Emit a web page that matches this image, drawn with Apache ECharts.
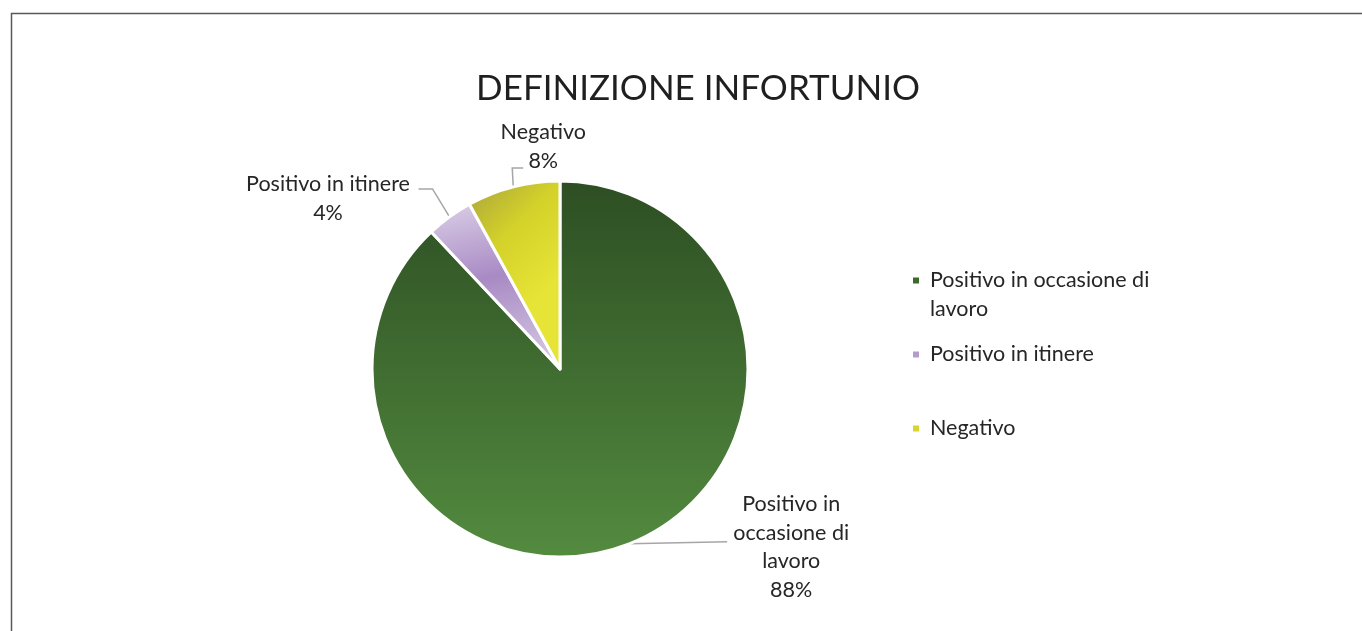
<!DOCTYPE html>
<html>
<head>
<meta charset="utf-8">
<script src="https://cdn.jsdelivr.net/npm/echarts@6/dist/echarts.min.js"></script>
<style>
  html, body { margin: 0; padding: 0; background: #fff; }
  #chart { width: 1362px; height: 631px; }
</style>
</head>
<body>
<div id="chart"></div>
<script>
// categories and shares (percent)
const categories = ['Positivo in occasione di lavoro', 'Positivo in itinere', 'Negativo'];
const values = [88, 4, 8];
// how the texts are broken into lines
const labelText = ['Positivo in\noccasione di\nlavoro', 'Positivo in itinere', 'Negativo'];
const legendText = ['\nPositivo in occasione di\nlavoro', '\nPositivo in itinere\n', '\nNegativo\n'];

const fontName = 'Lato';

const fills = [
  new echarts.graphic.LinearGradient(0, 0, 0, 1, [
    { offset: 0, color: '#2d4e23' },
    { offset: 1, color: '#538b3f' }
  ]),
  new echarts.graphic.LinearGradient(0, 0, 0.3, 1, [
    { offset: 0, color: '#ddd1e8' },
    { offset: 0.5, color: '#a88ac4' },
    { offset: 1, color: '#d0c2e0' }
  ]),
  new echarts.graphic.LinearGradient(0, 0, 1, 0.5, [
    { offset: 0, color: '#a8a33d' },
    { offset: 0.5, color: '#d4d22a' },
    { offset: 1, color: '#e6e436' }
  ])
];
const legendColors = ['#3a6a2c', '#b49ccf', '#d8d62e'];

// label offsets from the slice edge point (like Excel's leader lines)
const labelMove = [
  { line: [[49, -1], [98, -2]], pos: [162, 3.5] },
  { line: [[-17, -28], [-31, -28]], pos: [-121.5, -18.4] },
  { line: [[-1, -19], [10, -19]], pos: [30, -40.5] }
];

const chart = echarts.init(document.getElementById('chart'));

const option = {
  animation: false,
  title: {
    text: 'DEFINIZIONE INFORTUNIO',
    left: 693,
    textAlign: 'center',
    top: 66,
    textStyle: { fontFamily: fontName, fontSize: 35, fontWeight: 'normal', color: '#1f1f1f' }
  },
  legend: {
    orient: 'vertical',
    left: 906,
    top: 232,
    itemWidth: 8,
    itemHeight: 8,
    itemGap: -13,
    icon: 'rect',
    formatter: name => legendText[categories.indexOf(name)],
    textStyle: { fontFamily: fontName, fontSize: 21.5, color: '#262626', lineHeight: 29, padding: [0, 0, 0, 5] },
    data: categories.map((c, i) => ({ name: c, itemStyle: { color: legendColors[i] } }))
  },
  graphic: [{
    type: 'polyline',
    shape: { points: [[11.5, 700], [11.5, 13.5], [1400, 13.5]] },
    style: { stroke: '#595959', lineWidth: 1.5, fill: null }
  }],
  series: [{
    type: 'pie',
    center: [560, 369],
    radius: 188,
    startAngle: 90,
    clockwise: true,
    itemStyle: { borderColor: '#fff', borderWidth: 3 },
    label: {
      show: true,
      position: 'outside',
      fontFamily: fontName,
      fontSize: 21.5,
      lineHeight: 28.5,
      color: '#262626',
      formatter: p => labelText[p.dataIndex] + '\n' + Math.round(p.percent) + '%'
    },
    labelLine: { show: true, lineStyle: { color: '#a6a6a6', width: 1.5 } },
    labelLayout: params => {
      const m = labelMove[params.dataIndex];
      const p0 = params.labelLinePoints[0];
      return {
        x: p0[0] + m.pos[0],
        y: p0[1] + m.pos[1],
        align: 'center',
        verticalAlign: 'middle',
        labelLinePoints: [p0, [p0[0] + m.line[0][0], p0[1] + m.line[0][1]], [p0[0] + m.line[1][0], p0[1] + m.line[1][1]]]
      };
    },
    emphasis: { disabled: true },
    data: categories.map((c, i) => ({ name: c, value: values[i], itemStyle: { color: fills[i] } }))
  }]
};

chart.setOption(option);
</script>
</body>
</html>
